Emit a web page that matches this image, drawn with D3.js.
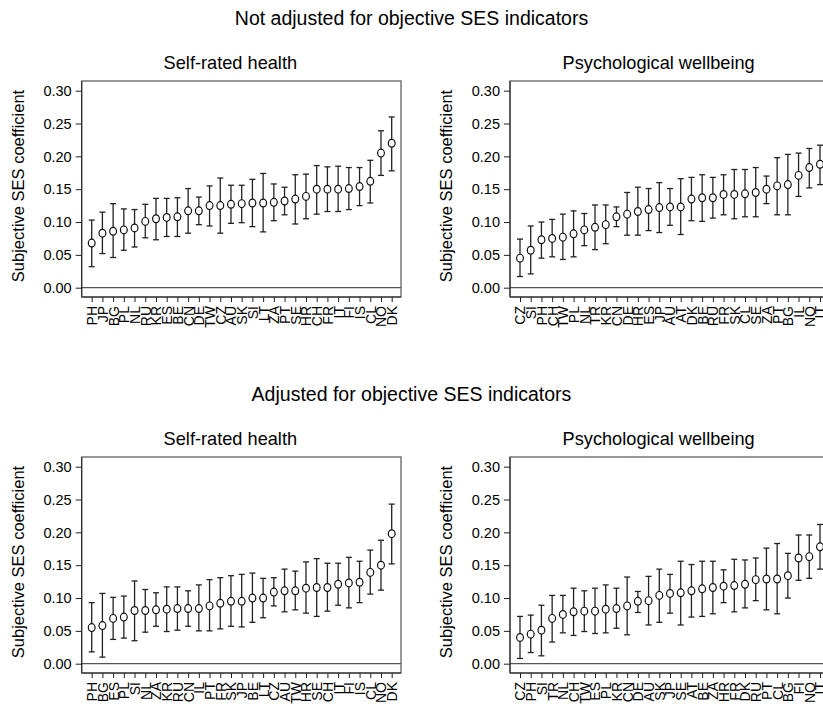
<!DOCTYPE html>
<html>
<head>
<meta charset="utf-8">
<script src="https://cdn.jsdelivr.net/npm/d3@7"></script>
<style>
  body { margin: 0; background: #fff; }
  text { font-family: "Liberation Sans", Arial, Helvetica, sans-serif; fill: #000; }
</style>
</head>
<body>
<div id="chart"></div>
<script>
// Panel 1: not adjusted, self-rated health
var srhLabels = ["PH","JP","BG","PL","NL","RU","KR","ES","BE","CN","DE","TW","CZ","AU","SK","SI","LT","ZA","PT","SE","HR","CH","FR","IT","FI","IS","CL","NO","DK"];
var srhEst = [0.068,0.083,0.086,0.088,0.091,0.101,0.105,0.107,0.108,0.117,0.117,0.125,0.125,0.127,0.128,0.129,0.129,0.130,0.132,0.135,0.139,0.150,0.150,0.150,0.151,0.154,0.162,0.205,0.220];
var srhLo  = [0.032,0.052,0.046,0.057,0.062,0.076,0.073,0.078,0.078,0.083,0.096,0.094,0.083,0.098,0.099,0.093,0.085,0.102,0.111,0.097,0.105,0.112,0.116,0.116,0.119,0.125,0.129,0.171,0.178];
var srhHi  = [0.103,0.115,0.128,0.120,0.119,0.127,0.136,0.136,0.137,0.151,0.138,0.155,0.167,0.156,0.156,0.165,0.174,0.158,0.153,0.172,0.173,0.186,0.184,0.185,0.183,0.183,0.194,0.239,0.260];

// Panel 2: not adjusted, psychological wellbeing
var pwbLabels = ["CZ","SI","PH","CH","TW","PL","NL","TR","KR","CN","DE","HR","ES","JP","AU","AT","DK","BE","RU","FR","SK","CL","SE","ZA","PT","BG","IL","NO","IT"];
var pwbEst = [0.045,0.057,0.073,0.075,0.077,0.082,0.088,0.092,0.096,0.108,0.112,0.116,0.119,0.122,0.123,0.123,0.135,0.137,0.137,0.142,0.142,0.143,0.145,0.150,0.155,0.157,0.171,0.183,0.188];
var pwbLo  = [0.017,0.021,0.045,0.047,0.043,0.047,0.064,0.058,0.067,0.093,0.080,0.080,0.087,0.084,0.095,0.081,0.102,0.101,0.106,0.111,0.105,0.108,0.108,0.128,0.111,0.111,0.139,0.152,0.157];
var pwbHi  = [0.074,0.094,0.100,0.104,0.112,0.117,0.113,0.126,0.126,0.123,0.145,0.153,0.151,0.160,0.151,0.166,0.168,0.172,0.168,0.172,0.180,0.180,0.183,0.170,0.198,0.203,0.205,0.212,0.217];

// Panel 3: adjusted, self-rated health
var srhAdjLabels = ["PH","BG","ES","PL","SI","NL","ZA","KR","RU","CN","IL","PT","FR","SK","JP","BE","LT","CZ","AU","TW","HR","SE","CH","IT","FI","IS","CL","NO","DK"];
var srhAdjEst = [0.055,0.058,0.069,0.071,0.081,0.081,0.082,0.083,0.084,0.084,0.084,0.088,0.092,0.095,0.095,0.100,0.100,0.109,0.111,0.111,0.115,0.116,0.116,0.121,0.123,0.124,0.139,0.150,0.198];
var srhAdjLo  = [0.018,0.010,0.037,0.039,0.035,0.048,0.057,0.049,0.051,0.057,0.050,0.050,0.053,0.057,0.056,0.063,0.070,0.088,0.079,0.082,0.077,0.072,0.080,0.089,0.085,0.093,0.106,0.112,0.152];
var srhAdjHi  = [0.093,0.107,0.101,0.103,0.126,0.113,0.108,0.117,0.117,0.111,0.120,0.128,0.131,0.134,0.136,0.138,0.130,0.131,0.144,0.141,0.155,0.160,0.153,0.153,0.162,0.156,0.173,0.188,0.243];

// Panel 4: adjusted, psychological wellbeing
var pwbAdjLabels = ["CZ","PH","SI","TR","NL","CH","TW","ES","PL","KR","CN","DE","AU","SK","JP","SE","AT","BE","ZA","HR","FR","DK","RU","PT","CL","BG","FI","NO","IT"];
var pwbAdjEst = [0.040,0.045,0.051,0.069,0.075,0.079,0.080,0.080,0.083,0.084,0.088,0.095,0.096,0.104,0.107,0.108,0.111,0.114,0.116,0.118,0.119,0.121,0.128,0.129,0.129,0.134,0.161,0.163,0.178];
var pwbAdjLo  = [0.008,0.017,0.012,0.033,0.047,0.043,0.049,0.046,0.047,0.054,0.044,0.078,0.059,0.063,0.077,0.059,0.071,0.072,0.076,0.093,0.079,0.085,0.096,0.082,0.076,0.100,0.127,0.130,0.144];
var pwbAdjHi  = [0.072,0.074,0.089,0.104,0.104,0.115,0.111,0.115,0.120,0.115,0.132,0.110,0.133,0.144,0.136,0.156,0.151,0.156,0.156,0.143,0.159,0.158,0.161,0.176,0.183,0.168,0.196,0.196,0.212];

var yTicks = [0, 0.05, 0.10, 0.15, 0.20, 0.25, 0.30];

var width = 823, height = 709;

var svg = d3.select("#chart").append("svg")
    .attr("width", width)
    .attr("height", height);

// titulos de cada fila
var rowTitles = [
  { text: "Not adjusted for objective SES indicators", y: 25 },
  { text: "Adjusted for objective SES indicators", y: 401 }
];
svg.selectAll("text.rowtitle")
  .data(rowTitles)
  .enter().append("text")
    .attr("class", "rowtitle")
    .attr("x", width / 2)
    .attr("y", d => d.y)
    .attr("text-anchor", "middle")
    .attr("font-size", "19.5px")
    .text(d => d.text);

var panels = [
  { title: "Self-rated health", labels: srhLabels, est: srhEst, lo: srhLo, hi: srhHi, left: 81.7, top: 81 },
  { title: "Psychological wellbeing", labels: pwbLabels, est: pwbEst, lo: pwbLo, hi: pwbHi, left: 510, top: 81 },
  { title: "Self-rated health", labels: srhAdjLabels, est: srhAdjEst, lo: srhAdjLo, hi: srhAdjHi, left: 81.7, top: 457 },
  { title: "Psychological wellbeing", labels: pwbAdjLabels, est: pwbAdjEst, lo: pwbAdjLo, hi: pwbAdjHi, left: 510, top: 457 }
];

var frameW = 319.3, frameH = 216;

panels.forEach(p => {
  var g = svg.append("g").attr("transform", "translate(" + p.left + "," + p.top + ")");

  var data = p.labels.map((c, i) => ({ country: c, est: p.est[i], lo: p.lo[i], hi: p.hi[i] }));

  var x = d3.scalePoint()
      .domain(p.labels)
      .range([10, frameW - 9.3]);

  var y = d3.scaleLinear()
      .domain([0, 0.30])
      .range([206.7, 9.7]);

  // marco del grafico
  g.append("rect")
      .attr("width", frameW)
      .attr("height", frameH)
      .attr("fill", "none")
      .attr("stroke", "#555")
      .attr("stroke-width", 1.2);

  // linea en cero
  g.append("line")
      .attr("x1", 0).attr("x2", frameW)
      .attr("y1", y(0)).attr("y2", y(0))
      .attr("stroke", "#555")
      .attr("stroke-width", 1.2);

  var yAxis = g.append("g")
      .call(d3.axisLeft(y).tickValues(yTicks).tickFormat(d3.format(".2f")).tickSize(6).tickPadding(4));
  yAxis.select(".domain").attr("stroke", "#222").attr("d", "M0,0V" + frameH);
  yAxis.selectAll(".tick line").attr("stroke", "#222");
  yAxis.selectAll("text").attr("font-size", "14.5px").attr("font-family", null);

  var xAxis = g.append("g")
      .attr("transform", "translate(0," + frameH + ")")
      .call(d3.axisBottom(x).tickSize(5).tickPadding(3));
  xAxis.select(".domain").attr("stroke", "#222").attr("d", "M0,0H" + frameW);
  xAxis.selectAll(".tick line").attr("stroke", "#222");
  xAxis.selectAll("text")
      .attr("font-size", "14px")
      .attr("font-family", null)
      .attr("text-anchor", "end")
      .attr("transform", "rotate(-90)")
      .attr("x", -9)
      .attr("y", 0)
      .attr("dy", "0.35em");

  // titulo del panel
  g.append("text")
      .attr("x", frameW / 2 - 11)
      .attr("y", -12.3)
      .attr("text-anchor", "middle")
      .attr("font-size", "18.2px")
      .text(p.title);

  // etiqueta del eje y
  g.append("text")
      .attr("transform", "rotate(-90)")
      .attr("x", -frameH / 2 + 3)
      .attr("y", -58)
      .attr("text-anchor", "middle")
      .attr("font-size", "16.5px")
      .text("Subjective SES coefficient");

  // barras de error
  var bars = g.selectAll("g.bar")
      .data(data)
      .enter().append("g")
      .attr("class", "bar")
      .attr("stroke", "#222")
      .attr("stroke-width", 1.3);

  bars.append("line")
      .attr("x1", d => x(d.country)).attr("x2", d => x(d.country))
      .attr("y1", d => y(d.lo)).attr("y2", d => y(d.hi));
  bars.append("line")
      .attr("x1", d => x(d.country) - 3).attr("x2", d => x(d.country) + 3)
      .attr("y1", d => y(d.lo)).attr("y2", d => y(d.lo));
  bars.append("line")
      .attr("x1", d => x(d.country) - 3).attr("x2", d => x(d.country) + 3)
      .attr("y1", d => y(d.hi)).attr("y2", d => y(d.hi));

  g.selectAll("ellipse")
      .data(data)
      .enter().append("ellipse")
      .attr("cx", d => x(d.country))
      .attr("cy", d => y(d.est))
      .attr("rx", 3.4)
      .attr("ry", 3.9)
      .attr("fill", "#fff")
      .attr("stroke", "#111")
      .attr("stroke-width", 1.2);
});
</script>
</body>
</html>
